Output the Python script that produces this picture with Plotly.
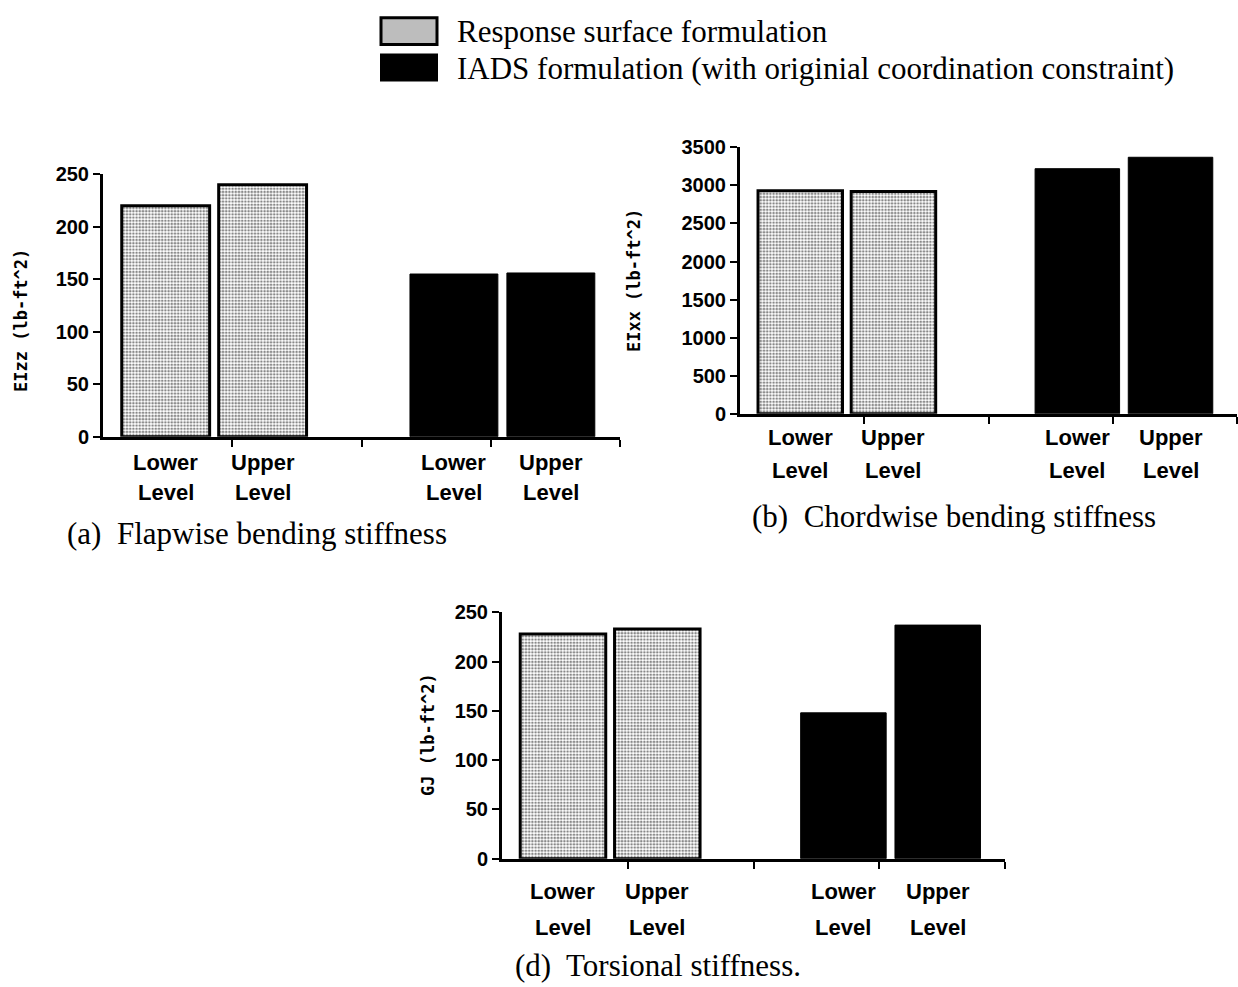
import plotly.graph_objects as go

# ---------------- data ----------------
levels = ["Lower", "Upper"]
series_names = ["Response surface formulation",
                "IADS formulation (with originial coordination constraint)"]

flap_rs = [220, 240]
flap_iads = [155, 156]
chord_rs = [2930, 2920]
chord_iads = [3220, 3370]
tors_rs = [228, 233]
tors_iads = [148, 237]

y_titles = ["EIzz (lb-ft^2)", "EIxx (lb-ft^2)", "GJ (lb-ft^2)"]
captions = ["(a)  Flapwise bending stiffness",
            "(b)  Chordwise bending stiffness",
            "(d)  Torsional stiffness."]
y_ticks = [[0, 50, 100, 150, 200, 250],
           [0, 500, 1000, 1500, 2000, 2500, 3000, 3500],
           [0, 50, 100, 150, 200, 250]]
y_max = [250, 3500, 250]

panels = [(flap_rs, flap_iads), (chord_rs, chord_iads), (tors_rs, tors_iads)]

# ---------------- layout constants ----------------
W, H = 1238, 987
def fx(px):
    return px / W
def fy(py):
    # small vertical correction for the capture
    return 1 - ((py - 9.3) / 0.98) / H

# pixel boxes of the plotting areas: (left, right, top, bottom)
boxes = [(103, 620, 173, 436), (740, 1237, 146, 413), (502, 1005, 612, 859)]
# label line offsets below the axis (px) for the two text lines
label_shift = [(-26, -56), (-24, -57), (-33, -69)]
group_center = [0.86, 3.09]
pair_off = 0.375
bar_w = 0.68

fills = [dict(color="white", line=dict(color="black", width=3),
              pattern=dict(shape=".", fgcolor="#111111", bgcolor="#ffffff",
                           size=3.2, solidity=0.5)),
         dict(color="black", line=dict(color="black", width=1))]

fig = go.Figure()
annotations = []
layout_axes = {}
label_font = dict(family="Liberation Sans, Arial", size=22, color="black", weight="bold")

for p, (rs, iads) in enumerate(panels):
    sfx = "" if p == 0 else str(p + 1)
    xa, ya = "x" + sfx, "y" + sfx
    for g, vals in enumerate((rs, iads)):
        xs = [group_center[g] + (i - 0.5) * 2 * pair_off for i in range(len(levels))]
        fig.add_trace(go.Bar(
            x=xs, y=vals, width=bar_w, marker=fills[g],
            name=series_names[g], showlegend=False,
            xaxis=xa, yaxis=ya))
        for i, lv in enumerate(levels):
            for line_txt, sh in zip((lv, "Level"), label_shift[p]):
                annotations.append(dict(
                    x=xs[i], xref=xa, y=0, yref=ya + " domain",
                    yanchor="middle", yshift=sh, showarrow=False,
                    text=line_txt, font=label_font))
    l, r, t, b = boxes[p]
    layout_axes["xaxis" + sfx] = dict(
        domain=[fx(l), fx(r)], range=[0, 4], anchor=ya,
        showline=True, linecolor="black", linewidth=3,
        ticks="outside", ticklen=7, tickwidth=2, tickcolor="black",
        tickvals=[1, 2, 3, 4], showticklabels=False,
        showgrid=False, zeroline=False, fixedrange=True)
    layout_axes["yaxis" + sfx] = dict(
        domain=[fy(b), fy(t)], range=[0, y_max[p]], anchor=xa,
        showline=True, linecolor="black", linewidth=3,
        ticks="outside", ticklen=7, tickwidth=2, tickcolor="black",
        tickvals=y_ticks[p],
        tickfont=dict(family="Liberation Sans, Arial", size=20, color="black",
                      weight="bold"),
        showgrid=False, zeroline=False, fixedrange=True)

# y-axis titles (rotated)
title_pos = [(21, 320), (634, 280), (428, 735)]
for p, (px, py) in enumerate(title_pos):
    annotations.append(dict(
        x=fx(px), y=fy(py), xref="paper", yref="paper", textangle=-90,
        xanchor="center", yanchor="middle", showarrow=False,
        text=y_titles[p],
        font=dict(family="DejaVu Sans Mono", size=17, color="black", weight="bold")))

# captions
cap_pos = [(65, 533), (750, 516), (513, 966)]
for p, (px, py) in enumerate(cap_pos):
    annotations.append(dict(
        x=fx(px), y=fy(py), xref="paper", yref="paper",
        xanchor="left", yanchor="middle", showarrow=False,
        text=captions[p],
        font=dict(family="Liberation Serif, Times New Roman", size=31, color="black")))

# legend (swatches + text)
shapes = [
    dict(type="rect", xref="paper", yref="paper",
         x0=fx(381), x1=fx(437), y0=fy(43), y1=fy(16),
         fillcolor="#bdbdbd", line=dict(color="black", width=3)),
    dict(type="rect", xref="paper", yref="paper",
         x0=fx(381), x1=fx(437), y0=fy(79), y1=fy(53),
         fillcolor="black", line=dict(color="black", width=2)),
]
leg_y = [30, 67]
for i, name in enumerate(series_names):
    annotations.append(dict(
        x=fx(455), y=fy(leg_y[i]), xref="paper", yref="paper",
        xanchor="left", yanchor="middle", showarrow=False,
        text=name,
        font=dict(family="Liberation Serif, Times New Roman", size=31, color="black")))

fig.update_layout(
    width=W, height=H, autosize=False,
    margin=dict(l=0, r=0, t=0, b=0),
    paper_bgcolor="white", plot_bgcolor="white",
    barmode="overlay",
    annotations=annotations, shapes=shapes,
    **layout_axes)

fig.write_html("out.html", config={"displayModeBar": False, "responsive": False})
